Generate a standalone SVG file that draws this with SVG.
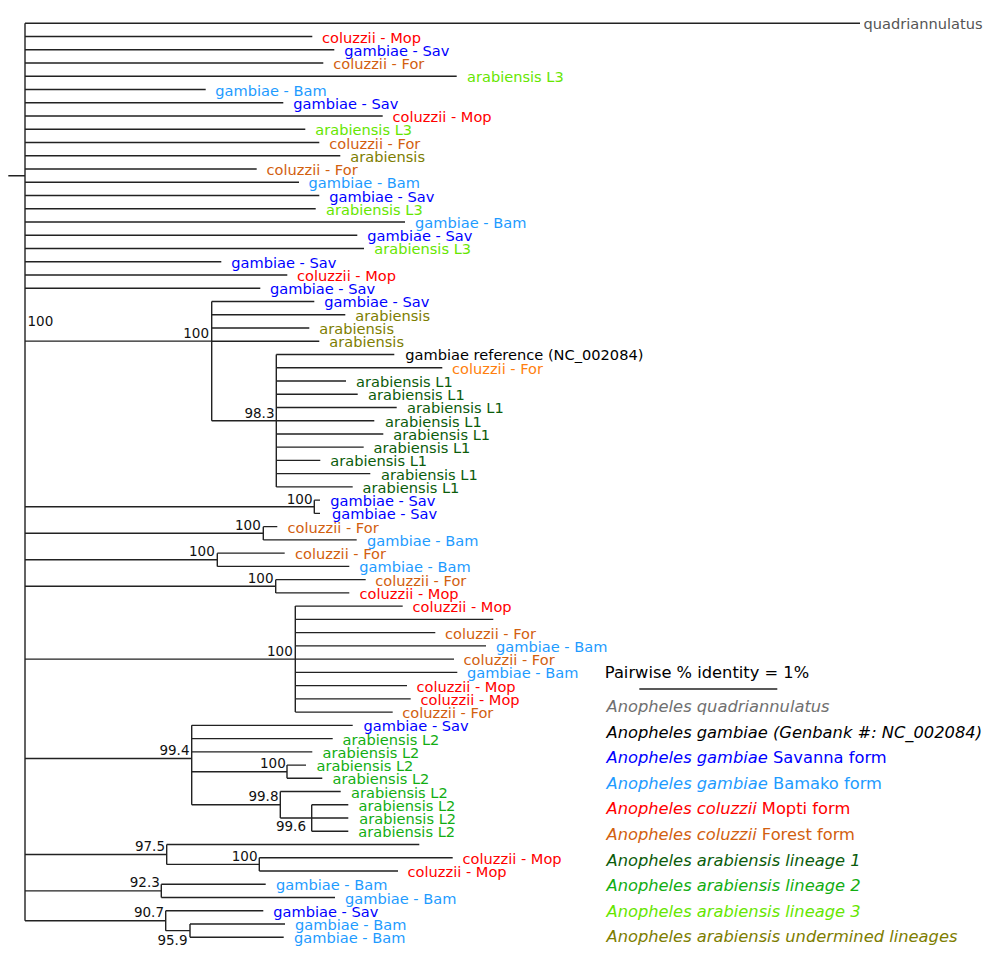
<svg xmlns="http://www.w3.org/2000/svg" width="1000" height="955" viewBox="0 0 1000 955">
<style>
text{font-family:"DejaVu Sans","Liberation Sans",sans-serif}
.t{font-size:14.6px}
.b{font-size:13.5px;fill:#111;text-anchor:end}
.lg{font-size:16.3px}
.i{font-style:italic}
.q{fill:#555}.ql{fill:#707070}.ref{fill:#000}
.mop{fill:#ff0000}.sav{fill:#0000ff}.for{fill:#d2600f}.forb{fill:#ff7f0e}
.bam{fill:#1e9bff}.l1{fill:#0b5c0b}.l2{fill:#12ad12}.l3{fill:#66e600}.ar{fill:#7d7d00}
</style>
<rect width="1000" height="955" fill="#fff"/>
<g id="connectors" fill="none" stroke="#222" stroke-width="1.4">
<path d="M8.3,175.7H25 M25,23.3V920.7
M25,23.3H860 M25,36.55H312.3 M25,49.79H334.3 M25,63.04H323.3 M25,76.28H456.7 M25,89.53H205.7 M25,102.78H283.3 M25,116.02H382.7 M25,129.27H305.3 M25,142.51H319.3 M25,155.76H340.3 M25,169.01H256.7 M25,182.25H299 M25,195.5H319.3 M25,208.74H315.7 M25,221.99H405 M25,235.24H357.3 M25,248.48H364 M25,261.73H221.3 M25,274.97H287.3 M25,288.22H260.3"/>
<path d="M25,341.1H211.7 M211.7,301.47V420.68 M211.7,301.47H314.3 M211.7,314.71H345.3 M211.7,327.96H309.3 M211.7,341.2H319.3
M211.7,420.68H276.3 M276.3,354.45V486.91 M276.3,354.45H394.3 M276.3,367.7H442.3 M276.3,380.94H346 M276.3,394.19H357.7 M276.3,407.43H396.7 M276.3,420.68H374.3 M276.3,433.93H383.3 M276.3,447.17H363.7 M276.3,460.42H320.3 M276.3,473.66H370.3 M276.3,486.91H352.7"/>
<path d="M25,506.8H314.3 M314.3,500.16V513.4 M314.3,500.16H320 M314.3,513.4H320
M25,533.3H263.3 M263.3,526.65V539.89 M263.3,526.65H277.3 M263.3,539.89H356.7
M25,559.8H217.3 M217.3,553.14V566.39 M217.3,553.14H284.7 M217.3,566.39H349.3
M25,586.3H275.7 M275.7,579.63V592.88 M275.7,579.63H365.7 M275.7,592.88H349.3"/>
<path d="M25,659.1H295.3 M295.3,606.12V712.09 M295.3,606.12H402.7 M295.3,619.37H493.3 M295.3,632.62H435.3 M295.3,645.86H486 M295.3,659.11H454 M295.3,672.35H457.3 M295.3,685.6H407 M295.3,698.85H410.7 M295.3,712.09H392.7"/>
<path d="M25,758.45H191.7 M191.7,725.34V804.8 M191.7,725.34H352.7 M191.7,738.58H332.7 M191.7,751.83H312.3
M191.7,771.7H287 M287,765.08V778.32 M287,765.08H306 M287,778.32H322.3
M191.7,804.8H280.3 M280.3,791.57V818.06 M280.3,791.57H340.7 M280.3,818.06H311.7 M311.7,804.81V831.31 M311.7,804.81H348.3 M311.7,818.06H348.3 M311.7,831.31H348.3"/>
<path d="M25,854.5H166.7 M166.7,844.55V864.42 M166.7,844.55H419.3 M166.7,864.42H259.3 M259.3,857.8V871.04 M259.3,857.8H452.7 M259.3,871.04H398
M25,890.9H161.3 M161.3,884.29V897.54 M161.3,884.29H265.7 M161.3,897.54H335
M25,920.7H165.7 M165.7,910.78V930.65 M165.7,910.78H263.3 M165.7,930.65H190 M190,924.03V937.27 M190,924.03H285 M190,937.27H283.7"/>
</g>
<g id="tips" class="t">
<g id="tip1"><text class="q" x="863.6" y="29.3">quadriannulatus</text></g>
<g id="tip2"><text class="mop" x="322" y="42.55">coluzzii - Mop</text></g>
<g id="tip3"><text class="sav" x="344.3" y="55.79">gambiae - Sav</text></g>
<g id="tip4"><text class="for" x="333.3" y="69.04">coluzzii - For</text></g>
<g id="tip5"><text class="l3" x="467" y="82.28">arabiensis L3</text></g>
<g id="tip6"><text class="bam" x="215.3" y="95.53">gambiae - Bam</text></g>
<g id="tip7"><text class="sav" x="293.3" y="108.78">gambiae - Sav</text></g>
<g id="tip8"><text class="mop" x="392.6" y="122.02">coluzzii - Mop</text></g>
<g id="tip9"><text class="l3" x="315.3" y="135.27">arabiensis L3</text></g>
<g id="tip10"><text class="for" x="329.3" y="148.51">coluzzii - For</text></g>
<g id="tip11"><text class="ar" x="350.3" y="161.76">arabiensis</text></g>
<g id="tip12"><text class="for" x="266.6" y="175.01">coluzzii - For</text></g>
<g id="tip13"><text class="bam" x="308.6" y="188.25">gambiae - Bam</text></g>
<g id="tip14"><text class="sav" x="329.3" y="201.5">gambiae - Sav</text></g>
<g id="tip15"><text class="l3" x="326" y="214.74">arabiensis L3</text></g>
<g id="tip16"><text class="bam" x="415" y="227.99">gambiae - Bam</text></g>
<g id="tip17"><text class="sav" x="367.3" y="241.24">gambiae - Sav</text></g>
<g id="tip18"><text class="l3" x="374.3" y="254.48">arabiensis L3</text></g>
<g id="tip19"><text class="sav" x="231.3" y="267.73">gambiae - Sav</text></g>
<g id="tip20"><text class="mop" x="297" y="280.97">coluzzii - Mop</text></g>
<g id="tip21"><text class="sav" x="270" y="294.22">gambiae - Sav</text></g>
<g id="tip22"><text class="sav" x="324.3" y="307.47">gambiae - Sav</text></g>
<g id="tip23"><text class="ar" x="355.3" y="320.71">arabiensis</text></g>
<g id="tip24"><text class="ar" x="319.3" y="333.96">arabiensis</text></g>
<g id="tip25"><text class="ar" x="329.3" y="347.2">arabiensis</text></g>
<g id="tip26"><text class="ref" x="405.3" y="360.45">gambiae reference (NC_002084)</text></g>
<g id="tip27"><text class="forb" x="452" y="373.7">coluzzii - For</text></g>
<g id="tip28"><text class="l1" x="356" y="386.94">arabiensis L1</text></g>
<g id="tip29"><text class="l1" x="368" y="400.19">arabiensis L1</text></g>
<g id="tip30"><text class="l1" x="407" y="413.43">arabiensis L1</text></g>
<g id="tip31"><text class="l1" x="385" y="426.68">arabiensis L1</text></g>
<g id="tip32"><text class="l1" x="393.3" y="439.93">arabiensis L1</text></g>
<g id="tip33"><text class="l1" x="373.6" y="453.17">arabiensis L1</text></g>
<g id="tip34"><text class="l1" x="330.3" y="466.42">arabiensis L1</text></g>
<g id="tip35"><text class="l1" x="381" y="479.66">arabiensis L1</text></g>
<g id="tip36"><text class="l1" x="362.6" y="492.91">arabiensis L1</text></g>
<g id="tip37"><text class="sav" x="330.3" y="506.16">gambiae - Sav</text></g>
<g id="tip38"><text class="sav" x="332" y="519.4">gambiae - Sav</text></g>
<g id="tip39"><text class="for" x="287.6" y="532.65">coluzzii - For</text></g>
<g id="tip40"><text class="bam" x="367" y="545.89">gambiae - Bam</text></g>
<g id="tip41"><text class="for" x="295" y="559.14">coluzzii - For</text></g>
<g id="tip42"><text class="bam" x="359.3" y="572.39">gambiae - Bam</text></g>
<g id="tip43"><text class="for" x="375.3" y="585.63">coluzzii - For</text></g>
<g id="tip44"><text class="mop" x="359.6" y="598.88">coluzzii - Mop</text></g>
<g id="tip45"><text class="mop" x="412.6" y="612.12">coluzzii - Mop</text></g>
<g id="tip47"><text class="for" x="445" y="638.62">coluzzii - For</text></g>
<g id="tip48"><text class="bam" x="496" y="651.86">gambiae - Bam</text></g>
<g id="tip49"><text class="for" x="463.6" y="665.11">coluzzii - For</text></g>
<g id="tip50"><text class="bam" x="467" y="678.35">gambiae - Bam</text></g>
<g id="tip51"><text class="mop" x="416.6" y="691.6">coluzzii - Mop</text></g>
<g id="tip52"><text class="mop" x="420.6" y="704.85">coluzzii - Mop</text></g>
<g id="tip53"><text class="for" x="402.3" y="718.09">coluzzii - For</text></g>
<g id="tip54"><text class="sav" x="363.6" y="731.34">gambiae - Sav</text></g>
<g id="tip55"><text class="l2" x="342.6" y="744.58">arabiensis L2</text></g>
<g id="tip56"><text class="l2" x="322.6" y="757.83">arabiensis L2</text></g>
<g id="tip57"><text class="l2" x="316.6" y="771.08">arabiensis L2</text></g>
<g id="tip58"><text class="l2" x="332.6" y="784.32">arabiensis L2</text></g>
<g id="tip59"><text class="l2" x="351" y="797.57">arabiensis L2</text></g>
<g id="tip60"><text class="l2" x="358.6" y="810.81">arabiensis L2</text></g>
<g id="tip61"><text class="l2" x="359.3" y="824.06">arabiensis L2</text></g>
<g id="tip62"><text class="l2" x="358.3" y="837.31">arabiensis L2</text></g>
<g id="tip64"><text class="mop" x="462.6" y="863.8">coluzzii - Mop</text></g>
<g id="tip65"><text class="mop" x="407.6" y="877.04">coluzzii - Mop</text></g>
<g id="tip66"><text class="bam" x="276" y="890.29">gambiae - Bam</text></g>
<g id="tip67"><text class="bam" x="345" y="903.54">gambiae - Bam</text></g>
<g id="tip68"><text class="sav" x="273.3" y="916.78">gambiae - Sav</text></g>
<g id="tip69"><text class="bam" x="295" y="930.03">gambiae - Bam</text></g>
<g id="tip70"><text class="bam" x="294" y="943.27">gambiae - Bam</text></g>
</g>
<g id="support">
<g id="bs-root"><text class="b" x="27.5" y="326" style="text-anchor:start">100</text></g>
<g id="bs-1"><text class="b" x="209" y="338">100</text></g>
<g id="bs-2"><text class="b" x="274.5" y="418">98.3</text></g>
<g id="bs-3"><text class="b" x="312.5" y="503.5">100</text></g>
<g id="bs-4"><text class="b" x="260.8" y="529.5">100</text></g>
<g id="bs-5"><text class="b" x="214.8" y="556">100</text></g>
<g id="bs-6"><text class="b" x="273.5" y="583">100</text></g>
<g id="bs-7"><text class="b" x="292.8" y="656">100</text></g>
<g id="bs-8"><text class="b" x="189.5" y="754.5">99.4</text></g>
<g id="bs-9"><text class="b" x="285.8" y="767.5">100</text></g>
<g id="bs-10"><text class="b" x="278.5" y="801">99.8</text></g>
<g id="bs-11"><text class="b" x="306" y="831">99.6</text></g>
<g id="bs-12"><text class="b" x="165" y="850.5">97.5</text></g>
<g id="bs-13"><text class="b" x="257.5" y="860.5">100</text></g>
<g id="bs-14"><text class="b" x="159.8" y="887">92.3</text></g>
<g id="bs-15"><text class="b" x="164" y="917">90.7</text></g>
<g id="bs-16"><text class="b" x="187.5" y="945">95.9</text></g>
</g>
<g id="legend" class="lg">
<g id="scale"><text x="604.8" y="678.3" fill="#000">Pairwise % identity = 1%</text>
<line x1="639.3" y1="689" x2="777.3" y2="689" stroke="#222" stroke-width="1.4"/></g>
<g id="leg1"><text class="ql i" x="606.5" y="712">Anopheles quadriannulatus</text></g>
<g id="leg2"><text class="ref i" x="606.5" y="737.5">Anopheles gambiae (Genbank #: NC_002084)</text></g>
<g id="leg3"><text class="sav" x="606.5" y="763"><tspan class="i">Anopheles gambiae</tspan> Savanna form</text></g>
<g id="leg4"><text class="bam" x="606.5" y="788.7"><tspan class="i">Anopheles gambiae</tspan> Bamako form</text></g>
<g id="leg5"><text class="mop" x="606.5" y="814.3"><tspan class="i">Anopheles coluzzii</tspan> Mopti form</text></g>
<g id="leg6"><text class="for" x="606.5" y="840"><tspan class="i">Anopheles coluzzii</tspan> Forest form</text></g>
<g id="leg7"><text class="l1 i" x="606.5" y="865.7">Anopheles arabiensis lineage 1</text></g>
<g id="leg8"><text class="l2 i" x="606.5" y="891.3">Anopheles arabiensis lineage 2</text></g>
<g id="leg9"><text class="l3 i" x="606.5" y="916.7">Anopheles arabiensis lineage 3</text></g>
<g id="leg10"><text class="ar i" x="606.5" y="942.3">Anopheles arabiensis undermined lineages</text></g>
</g>
</svg>
